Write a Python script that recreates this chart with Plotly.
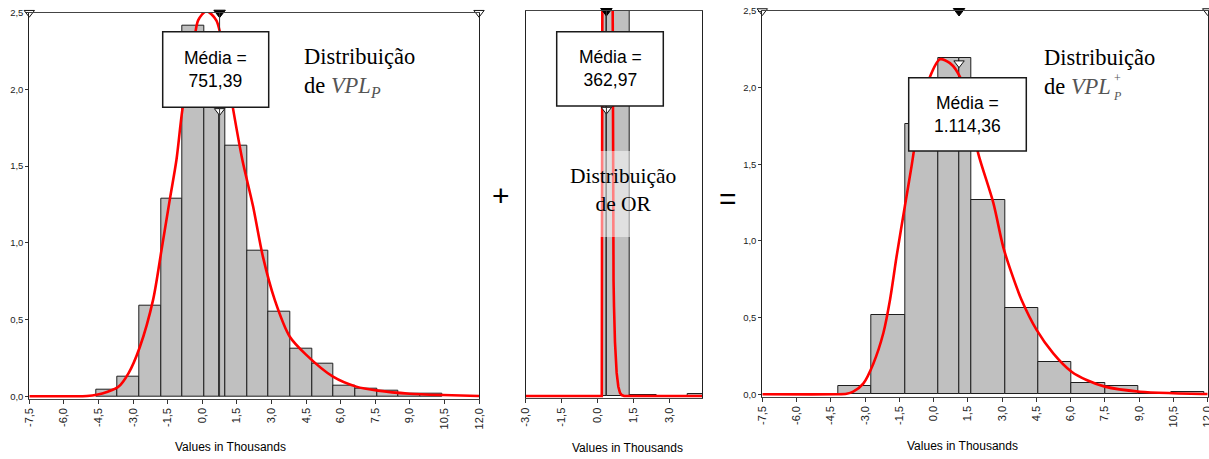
import plotly.graph_objects as go

W, H = 1209, 459

# ---------------- data (values in thousands) ----------------
# Left panel: Distribuição de VPL_P
left_edges = [-4.584, -3.674, -2.736, -1.797, -0.859, 0.079, 1.003, 1.941, 2.880,
              3.818, 4.757, 5.695, 6.634, 7.572, 8.511, 9.449, 10.387]
left_heights = [0.046, 0.126, 0.589, 1.290, 2.416, 2.300, 1.634, 0.952, 0.554,
                0.308, 0.213, 0.069, 0.052, 0.035, 0.020, 0.017]
left_mean = 0.75139
left_mean_label = "Média =<br>751,39"
left_curve_x = [-7.5, -5.6, -5.0, -4.58, -4.1, -3.65, -3.2, -2.71, -2.13, -1.77, -1.41,
                -1.12, -0.86, -0.40, -0.18, 0.18, 0.61, 1.00, 1.34, 1.74, 2.20, 2.63,
                3.14, 3.79, 4.51, 5.67, 6.68, 7.62, 8.99, 10.43, 12.0]
left_curve_y = [0, 0, 0.002, 0.01, 0.03, 0.06, 0.15, 0.32, 0.63, 0.95, 1.28,
                1.54, 1.87, 2.26, 2.45, 2.51, 2.45, 2.18, 1.87, 1.54, 1.24, 0.91,
                0.63, 0.39, 0.27, 0.128, 0.063, 0.037, 0.017, 0.008, 0.002]

# Middle panel: Distribuição de OR
mid_edges = [0.21, 1.32, 2.47, 3.73, 4.90]
mid_heights = [9.0, 0.008, 0.0, 0.013]
mid_mean = 0.36297
mid_mean_label = "Média =<br>362,97"
mid_curve_x = [-3.0, 0.17, 0.18, 0.19, 0.22, 0.35, 0.50, 0.60, 0.625, 0.635, 0.66,
               0.68, 0.72, 0.79, 0.86, 0.93, 1.0, 1.1, 4.4]
mid_curve_y = [0, 0, 1.2, 2.8, 5.0, 7.0, 5.5, 3.5, 2.5, 1.0, 0.75,
               0.58, 0.35, 0.15, 0.06, 0.02, 0.006, 0.0, 0.0]

# Right panel: Distribuição de VPL_P^+
right_edges = [-4.173, -2.714, -1.255, 0.204, 1.663, 3.122, 4.581, 6.040, 7.500,
               8.959, 10.418, 11.83]
right_heights = [0.056, 0.515, 1.763, 2.196, 1.267, 0.561, 0.213, 0.072, 0.052,
                 0.010, 0.013]
right_mean = 1.11436
right_mean_label = "Média =<br>1.114,36"
right_curve_x = [-7.5, -4.3, -3.81, -3.52, -3.08, -2.64, -2.20, -1.91, -1.62, -1.255,
                 -0.963, -0.598, -0.161, 0.277, 0.715, 1.153, 1.590, 1.955, 2.612,
                 3.049, 3.414, 3.852, 4.508, 5.238, 6.040, 6.697, 7.500, 9.032,
                 10.491, 12.0]
right_curve_y = [0, 0, 0.003, 0.017, 0.07, 0.20, 0.40, 0.615, 0.90, 1.23,
                 1.49, 1.83, 2.07, 2.185, 2.16, 2.07, 1.83, 1.57, 1.25,
                 0.96, 0.79, 0.615, 0.42, 0.267, 0.147, 0.093, 0.05, 0.017,
                 0.007, 0.002]

# Tick labels
x_tickvals = [-7.5, -6.0, -4.5, -3.0, -1.5, 0.0, 1.5, 3.0, 4.5, 6.0, 7.5, 9.0, 10.5, 12.0]
x_ticktext = ['-7,5', '-6,0', '-4,5', '-3,0', '-1,5', '0,0', '1,5', '3,0', '4,5',
              '6,0', '7,5', '9,0', '10,5', '12,0']
mid_tickvals = [-3.0, -1.5, 0.0, 1.5, 3.0]
mid_ticktext = ['-3,0', '-1,5', '0,0', '1,5', '3,0']
y_tickvals = [0.0, 0.5, 1.0, 1.5, 2.0, 2.5]
y_ticktext = ['0,0', '0,5', '1,0', '1,5', '2,0', '2,5']
axis_title = "Values in Thousands"

# ---------------- styling helpers ----------------
SANS = "Liberation Sans, Arial, sans-serif"
SERIF = "Liberation Serif, Times New Roman, serif"
BAR_FILL = '#c0c0c0'
BAR_LINE = '#1e1e1e'
RED = '#ff0000'


def px_x(p):
    return p / W


def px_y(p):
    return 1 - p / H


def y_dom(p0, ptop, lo=-0.015):
    ppu = (p0 - ptop) / 2.5
    bottom = p0 + (-lo) * ppu
    return [px_y(bottom), px_y(ptop)], [lo, 2.5]


def split_bars(edges, heights, mean):
    lefts, widths, hs = [], [], []
    for i, h in enumerate(heights):
        a, b = edges[i], edges[i + 1]
        if a < mean < b:
            lefts += [a, mean]
            widths += [mean - a, b - mean]
            hs += [h, h]
        else:
            lefts.append(a)
            widths.append(b - a)
            hs.append(h)
    return lefts, widths, hs


fig = go.Figure()

panels = [
    ('x', 'y', left_edges, left_heights, left_mean, left_curve_x, left_curve_y, 'spline'),
    ('x2', 'y2', mid_edges, mid_heights, mid_mean, mid_curve_x, mid_curve_y, 'linear'),
    ('x3', 'y3', right_edges, right_heights, right_mean, right_curve_x, right_curve_y, 'spline'),
]
for xa, ya, edges, heights, mean, cx, cy, shape in panels:
    lefts, widths, hs = split_bars(edges, heights, mean)
    fig.add_trace(go.Bar(x=lefts, y=hs, width=widths, offset=0,
                         marker=dict(color=BAR_FILL, line=dict(color=BAR_LINE, width=1)),
                         xaxis=xa, yaxis=ya, hoverinfo='skip'))
    fig.add_trace(go.Scatter(x=cx, y=cy, mode='lines',
                             line=dict(color=RED, width=2.6, shape=shape, smoothing=0.8),
                             xaxis=xa, yaxis=ya, hoverinfo='skip'))

# Triangle markers (corner and mean markers)
tri_white = dict(symbol='triangle-down', size=9, color='white', line=dict(color='#111', width=1))
tri_black = dict(symbol='triangle-down', size=10, color='black', line=dict(color='black', width=1))
marker_sets = [
    ('x', 'y', [-7.5, 12.0], [2.5, 2.5], tri_white),
    ('x', 'y', [left_mean], [2.5], tri_black),
    ('x', 'y', [left_mean], [1.86], tri_white),
    ('x2', 'y2', [mid_mean], [2.5], tri_black),
    ('x2', 'y2', [mid_mean], [1.86], tri_white),
    ('x3', 'y3', [-7.5, 12.0], [2.5, 2.5], tri_white),
    ('x3', 'y3', [right_mean], [2.5], tri_black),
    ('x3', 'y3', [right_mean], [2.16], tri_white),
]
for xa, ya, mx, my, mk in marker_sets:
    fig.add_trace(go.Scatter(x=mx, y=my, mode='markers', marker=mk, cliponaxis=False,
                             xaxis=xa, yaxis=ya, hoverinfo='skip'))

# ---------------- axes ----------------
tickfont = dict(family=SANS, size=11, color='#222')
ytickfont = dict(family=SANS, size=9.5, color='#222')

L_xdom = [px_x(29.3), px_x(479.0)]
M_xdom = [px_x(525.7), px_x(702.3)]
R_xdom = [px_x(762.3), px_x(1207.7)]
L_ydom, L_yr = y_dom(396.3, 12.7)
M_ydom, M_yr = y_dom(396.0, 11.0)
R_ydom, R_yr = y_dom(394.3, 11.0)

common_x = dict(showgrid=False, zeroline=False, showline=True, linecolor='#444', linewidth=1,
                mirror=True, ticks='outside', ticklen=4, tickcolor='#333', tickwidth=1,
                tickangle=-90, tickfont=tickfont, fixedrange=True, automargin=False,
                ticklabeloverflow='allow')
common_y = dict(showgrid=False, zeroline=False, showline=True, linecolor='#222', linewidth=1,
                mirror=True, ticks='outside', ticklen=3, tickcolor='#333', tickwidth=1,
                tickfont=ytickfont, fixedrange=True, automargin=False)

over_x = dict(showgrid=False, zeroline=False, showline=False, ticks='inside', ticklen=8,
              tickcolor='#333', tickwidth=1, showticklabels=False, fixedrange=True,
              automargin=False)
over_y = dict(showgrid=False, zeroline=False, showline=False, ticks='inside', ticklen=6,
              tickcolor='#333', tickwidth=1, showticklabels=False, fixedrange=True,
              automargin=False)

fig.update_layout(
    template='none',
    xaxis=dict(common_x, domain=L_xdom, range=[-7.5, 12.0], anchor='y',
               tickmode='array', tickvals=x_tickvals, ticktext=x_ticktext),
    yaxis=dict(common_y, domain=L_ydom, range=L_yr, anchor='x',
               tickmode='array', tickvals=y_tickvals, ticktext=y_ticktext),
    xaxis2=dict(common_x, domain=M_xdom, range=[-3.0, 4.358], anchor='y2',
                tickmode='array', tickvals=mid_tickvals, ticktext=mid_ticktext),
    yaxis2=dict(common_y, domain=M_ydom, range=M_yr, anchor='x2', ticks='',
                showticklabels=False),
    xaxis3=dict(common_x, domain=R_xdom, range=[-7.5, 12.0], anchor='y3',
                tickmode='array', tickvals=x_tickvals, ticktext=x_ticktext),
    yaxis3=dict(common_y, domain=R_ydom, range=R_yr, anchor='x3',
                tickmode='array', tickvals=y_tickvals, ticktext=y_ticktext),
    xaxis4=dict(over_x, overlaying='x', anchor='y', domain=L_xdom, range=[-7.5, 12.0],
                tickmode='array', tickvals=x_tickvals),
    yaxis4=dict(over_y, overlaying='y', anchor='x', domain=L_ydom, range=L_yr,
                tickmode='array', tickvals=y_tickvals),
    xaxis5=dict(over_x, overlaying='x2', anchor='y2', domain=M_xdom, range=[-3.0, 4.358],
                tickmode='array', tickvals=mid_tickvals),
    xaxis6=dict(over_x, overlaying='x3', anchor='y3', domain=R_xdom, range=[-7.5, 12.0],
                tickmode='array', tickvals=x_tickvals),
    yaxis6=dict(over_y, overlaying='y3', anchor='x3', domain=R_ydom, range=R_yr,
                tickmode='array', tickvals=y_tickvals),
)

# ---------------- shapes ----------------
shapes = []
# mean lines (left and middle span full height)
for xa, ya, mean in [('x', 'y', left_mean), ('x2', 'y2', mid_mean)]:
    shapes.append(dict(type='line', xref=xa, yref=ya, x0=mean, x1=mean, y0=0, y1=2.5,
                       line=dict(color='#333', width=1), layer='above'))
# translucent text background in middle panel
shapes.append(dict(type='rect', xref='paper', yref='paper',
                   x0=px_x(556), x1=px_x(690), y0=px_y(237), y1=px_y(151),
                   fillcolor='rgba(255,255,255,0.5)', line=dict(width=0), layer='above'))
# Média boxes
for (x0, x1, y0, y1) in [(162.7, 268.7, 31.7, 107.3), (556.7, 663.3, 31.7, 106.0),
                         (908.7, 1026.3, 77.7, 151.0)]:
    shapes.append(dict(type='rect', xref='paper', yref='paper',
                       x0=px_x(x0), x1=px_x(x1), y0=px_y(y1), y1=px_y(y0),
                       fillcolor='white', line=dict(color='#1a1a1a', width=1.5), layer='above'))
fig.update_layout(shapes=shapes)

# ---------------- annotations ----------------
def ann(text, x, y, size, family, xanchor='center', yanchor='middle', color='black', align='center'):
    return dict(text=text, x=px_x(x), y=px_y(y), xref='paper', yref='paper',
                showarrow=False, xanchor=xanchor, yanchor=yanchor, align=align,
                font=dict(family=family, size=size, color=color))

GRAYTXT = "<span style='color:#555'>%s</span>"
anns = [
    ann(left_mean_label, 215.7, 69, 17.5, SANS),
    ann(mid_mean_label, 610, 68.5, 17.5, SANS),
    ann(right_mean_label, 967.5, 114.5, 17.5, SANS),
    ann("Distribuição<br>de <i>" + GRAYTXT % "VPL" + "</i><sub><i>" + GRAYTXT % "P" + "</i></sub>",
        302, 72, 22.5, SERIF, xanchor='left', align='left'),
    ann("Distribuição<br>de OR", 622.7, 190, 21.5, SERIF),
    ann("Distribuição<br>de <i>" + GRAYTXT % "VPL" + "</i>",
        1042, 72, 22.5, SERIF, xanchor='left', align='left'),
    ann(GRAYTXT % "+", 1112, 78, 12, SERIF, xanchor='left'),
    ann("<i>" + GRAYTXT % "P" + "</i>", 1111, 96, 12, SERIF, xanchor='left'),
    ann(axis_title, 230.5, 447, 12, SANS),
    ann(axis_title, 627.5, 448, 12, SANS),
    ann(axis_title, 962.5, 446, 12, SANS),
    ann("+", 501, 196, 30, SANS),
    ann("=", 727.5, 199, 30, SANS),
]
fig.update_layout(annotations=anns)

fig.update_layout(
    width=W, height=H, margin=dict(l=0, r=0, t=0, b=0, pad=0),
    paper_bgcolor='white', plot_bgcolor='white',
    showlegend=False, barmode='overlay', bargap=0,
)

fig.write_html("out.html", config={'displayModeBar': False},
               post_script="document.body.style.margin='0';document.body.style.overflow='hidden';")
